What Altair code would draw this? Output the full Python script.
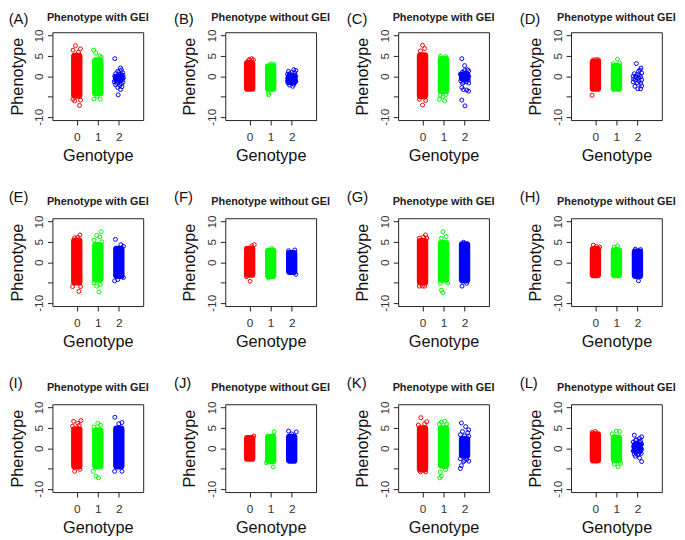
import altair as alt
import pandas as pd

PANELS = list("ABCDEFGHIJKL")
TITLES = ["Phenotype with GEI", "Phenotype without GEI"] * 6
GENOTYPES = [0, 1, 2]
COLORS = ["#FF0000", "#00FF00", "#0000FF"]
JITTER = 0.2
X_TICKS = [0, 1, 2]
Y_TICKS = [-10, -5, 0, 5, 10]

# dense core of each genotype group (lo / hi phenotype), None = no solid core
CORE_LO = [
    [-5.2, -4.6, -1.2], [-3.5, -3.5, -1.8], [-5.3, -4.1, -1.0], [-3.5, -3.5, None],
    [-5.4, -4.7, -3.8], [-3.5, -3.8, -2.8], [-5.4, -4.7, -4.9], [-3.6, -3.6, -3.8],
    [-4.9, -4.9, -4.9], [-3.0, -3.6, -3.5], [-5.6, -4.7, -2.2], [-3.4, -3.3, -1.0],
]
CORE_HI = [
    [5.4, 4.3, 0.2], [3.6, 2.8, 0.4], [5.5, 4.6, 0.8], [3.9, 2.9, None],
    [5.7, 4.6, 3.7], [3.7, 3.2, 2.6], [5.6, 5.1, 4.8], [3.6, 3.3, 3.0],
    [5.0, 4.8, 5.2], [2.9, 3.2, 3.2], [5.3, 5.3, 2.6], [3.8, 3.0, 1.2],
]

# individually visible points: (genotype, jitter offset, phenotype)
PTS_A = [(0, -0.06, 7.5), (0, 0.17, 6.7), (0, -0.18, 6.4), (0, 0.08, 5.9), (0, 0.13, -7.2), (0, -0.1, -6.1),
         (0, 0.18, -5.9), (0, -0.18, -5.7),
         (1, -0.2, 6.4), (1, -0.1, 5.7), (1, 0.1, 5.0), (1, 0.17, 4.6), (1, -0.18, -5.6), (1, 0.12, -5.7), (1, -0.03, -5.0),
         (2, -0.19, 4.3), (2, 0.08, 2.0), (2, 0.12, 1.5), (2, -0.05, 1.2), (2, 0.18, 0.9), (2, -0.15, 0.6), (2, 0.02, 0.4),
         (2, 0.2, 0.2), (2, -0.2, 0.0), (2, -0.08, -0.1), (2, 0.1, -0.3), (2, 0.0, -0.5), (2, -0.12, -0.6), (2, 0.16, -0.8),
         (2, -0.18, -1.0), (2, 0.06, -1.1), (2, -0.02, -1.3), (2, 0.2, -1.5), (2, -0.1, -1.7), (2, 0.12, -1.9),
         (2, -0.16, -2.1), (2, 0.04, -2.3), (2, 0.15, -2.6), (2, -0.05, -2.8), (2, 0.08, -3.3), (2, -0.03, -4.6),
         (2, 0.22, -0.4), (2, -0.22, -1.4), (2, 0.0, 0.9), (2, 0.1, 0.5)]
PTS_B = [(0, 0.1, 4.3), (0, 0.0, 4.1), (0, 0.18, 4.0), (0, -0.05, 3.9),
         (1, 0.0, 3.0), (1, 0.15, 2.9), (1, -0.1, -4.6), (1, -0.12, -4.2),
         (2, 0.1, 1.6), (2, 0.2, 1.4), (2, -0.15, 1.2), (2, 0.0, 0.9), (2, 0.15, 0.8), (2, -0.2, 0.5), (2, -0.05, 0.3),
         (2, 0.1, 0.2), (2, 0.2, 0.0), (2, -0.12, -0.1), (2, 0.03, -0.3), (2, -0.2, -0.5), (2, 0.12, -0.6),
         (2, -0.05, -0.8), (2, 0.18, -0.9), (2, -0.15, -1.0), (2, 0.05, -1.2), (2, -0.08, -1.4), (2, 0.15, -1.5),
         (2, -0.18, -1.7), (2, 0.0, -1.8), (2, 0.1, -2.0), (2, -0.1, -2.2), (2, 0.05, -2.5), (2, -0.02, -1.0),
         (2, 0.08, -0.5), (2, -0.1, 0.6), (2, 0.02, -1.6), (2, 0.2, -1.3), (2, -0.2, -1.2)]
PTS_C = [(0, 0.0, 7.6), (0, 0.1, 6.8), (0, -0.1, 6.2), (0, 0.15, -6.0), (0, 0.0, -7.1), (0, -0.15, -5.7),
         (1, -0.15, 4.9), (1, 0.1, 4.8), (1, -0.16, -4.7), (1, -0.03, -5.0), (1, -0.2, -5.7), (1, 0.05, -6.1), (1, 0.1, -4.5),
         (2, -0.13, 4.3), (2, 0.0, 2.6), (2, 0.14, 1.6), (2, 0.2, 1.3), (2, -0.1, 1.0), (2, 0.05, 0.8), (2, -0.2, 0.5),
         (2, 0.15, 0.4), (2, 0.0, 0.2), (2, -0.08, 0.0), (2, 0.2, -0.1), (2, 0.1, -0.3), (2, -0.15, -0.4),
         (2, 0.05, -0.6), (2, -0.02, -0.9), (2, 0.18, -1.0), (2, -0.18, -1.2), (2, 0.08, -1.4), (2, 0.2, -1.7),
         (2, -0.1, -1.8), (2, -0.13, -2.8), (2, -0.05, -3.3), (2, 0.1, -3.4), (2, 0.19, -3.7), (2, -0.13, -5.9),
         (2, 0.02, -7.3), (2, 0.12, 0.6), (2, -0.05, -1.5), (2, 0.15, -0.7), (2, 0.0, 1.4)]
PTS_D = [(0, -0.16, -4.7), (0, 0.15, 4.0), (0, -0.1, 4.0), (0, 0.05, 4.1),
         (1, 0.05, 4.2), (1, -0.15, 3.1), (1, 0.15, 3.2),
         (2, -0.05, 3.1), (2, 0.17, 2.0), (2, 0.12, 1.5), (2, 0.05, 1.2), (2, 0.2, 0.8), (2, -0.15, 0.6), (2, 0.0, 0.4),
         (2, 0.1, 0.2), (2, -0.2, 0.0), (2, 0.15, -0.2), (2, -0.05, -0.3), (2, 0.05, -0.5), (2, -0.18, -0.7),
         (2, 0.2, -0.9), (2, -0.1, -1.0), (2, 0.08, -1.2), (2, -0.2, -1.4), (2, 0.0, -1.6), (2, 0.15, -1.8),
         (2, 0.2, -2.4), (2, -0.12, -2.5), (2, 0.02, -3.1), (2, 0.15, -3.1), (2, -0.08, -0.1)]
PTS_E = [(0, 0.15, 6.7), (0, -0.1, 6.0), (0, 0.05, 6.1), (0, -0.2, -6.0), (0, 0.1, -7.2), (0, 0.18, -6.0),
         (1, 0.16, 7.5), (1, -0.05, 6.6), (1, 0.1, 6.2), (1, -0.18, 5.4), (1, 0.2, 5.0), (1, -0.18, -5.1),
         (1, 0.12, -5.5), (1, 0.06, -7.3), (1, -0.05, -5.9),
         (2, -0.16, 5.6), (2, 0.1, 4.3), (2, 0.22, 3.9), (2, -0.2, -4.6), (2, -0.05, -4.3), (2, 0.22, -3.8)]
PTS_F = [(0, 0.22, 4.3), (0, 0.1, 4.0), (0, 0.02, -4.7), (0, -0.15, -3.6),
         (1, 0.05, 3.4), (1, -0.1, -3.9),
         (2, 0.2, -3.0), (2, 0.15, 3.0), (2, -0.15, 2.8)]
PTS_G = [(0, 0.14, 6.7), (0, 0.05, 6.2), (0, -0.15, 5.9), (0, 0.2, 5.9), (0, -0.15, -5.9), (0, 0.1, -5.9), (0, 0.0, -5.9),
         (1, -0.03, 7.5), (1, 0.12, 6.3), (1, -0.1, 5.9), (1, -0.1, -6.9), (1, -0.03, -7.5), (1, 0.2, -5.1), (1, -0.15, -5.2),
         (2, -0.12, -5.9), (2, 0.1, -5.2), (2, -0.05, 4.9)]
PTS_H = [(0, -0.1, 4.2), (0, 0.05, 3.9), (0, 0.2, 3.7),
         (1, 0.05, 4.0), (1, -0.1, 3.7),
         (2, 0.05, -4.6), (2, -0.1, 3.2), (2, 0.15, 3.1)]
PTS_I = [(0, -0.15, 6.6), (0, 0.2, 6.8), (0, 0.05, 6.1), (0, -0.2, 5.4), (0, 0.12, 5.6), (0, -0.1, -5.7), (0, 0.15, -5.2),
         (1, 0.0, 6.1), (1, 0.13, 5.7), (1, -0.18, 5.2), (1, -0.22, -5.7), (1, -0.08, -6.9), (1, 0.03, -7.3),
         (2, -0.19, 7.6), (2, 0.15, 6.3), (2, 0.0, 6.0), (2, -0.2, -5.7), (2, 0.15, -5.7)]
PTS_J = [(0, 0.2, 3.0),
         (1, 0.16, 4.0), (1, 0.12, -4.6), (1, -0.2, -3.6),
         (2, -0.15, 4.2), (2, 0.22, 4.0), (2, 0.0, 3.5)]
PTS_K = [(0, -0.08, 7.5), (0, 0.2, 6.5), (0, -0.2, 5.7), (0, 0.1, 6.0), (0, -0.1, -5.8), (0, 0.15, -5.8),
         (1, -0.1, 6.4), (1, 0.05, 6.6), (1, 0.15, 6.0), (1, -0.2, 5.9), (1, -0.15, -5.9), (1, -0.1, -6.9),
         (1, -0.18, -7.3), (1, 0.1, -5.3),
         (2, -0.15, 6.2), (2, 0.05, 5.3), (2, 0.2, 4.5), (2, -0.1, 4.1), (2, 0.15, 3.8), (2, -0.2, 3.3), (2, 0.0, 3.0),
         (2, 0.2, 2.9), (2, -0.2, -2.6), (2, 0.1, -2.8), (2, 0.2, -3.2), (2, -0.05, -3.3), (2, -0.15, -4.3),
         (2, -0.2, -5.0), (2, 0.0, -3.0)]
PTS_L = [(0, 0.0, 4.1), (0, -0.15, 3.9),
         (1, 0.0, 4.2), (1, 0.15, 4.1), (1, -0.2, 3.5), (1, 0.08, -4.6), (1, -0.1, -3.9), (1, 0.2, -3.7),
         (2, -0.15, 3.2), (2, 0.2, 2.8), (2, 0.1, 2.4), (2, -0.05, 2.1), (2, 0.15, 1.8), (2, -0.2, 1.5), (2, 0.0, 1.3),
         (2, 0.2, 1.0), (2, -0.1, 0.8), (2, 0.08, 0.6), (2, -0.18, 0.4), (2, 0.15, 0.2), (2, 0.0, 0.0),
         (2, -0.12, -0.2), (2, 0.2, -0.3), (2, 0.05, -0.5), (2, -0.2, -0.7), (2, 0.12, -0.9), (2, -0.05, -1.1),
         (2, 0.18, -1.3), (2, -0.15, -1.5), (2, 0.02, -1.7), (2, -0.1, -2.0), (2, 0.1, -2.4), (2, 0.2, -3.3),
         (2, -0.05, -0.4), (2, 0.1, 1.5), (2, -0.08, 1.9), (2, 0.05, -1.4), (2, 0.15, -0.1)]
POINTS = [PTS_A, PTS_B, PTS_C, PTS_D, PTS_E, PTS_F, PTS_G, PTS_H, PTS_I, PTS_J, PTS_K, PTS_L]

W, H = 92, 89
FONT = "Liberation Sans"

X = alt.X("xa:Q", scale=alt.Scale(domain=[-1.16, 3.16], nice=False, zero=False),
          axis=alt.Axis(values=X_TICKS, title="Genotype", grid=False, domain=False, tickSize=5,
                        tickColor="#222", labelFontSize=12, labelColor="#333", labelFont=FONT,
                        labelPadding=6.5, labelFlush=False, labelOverlap=False,
                        titleFont=FONT, titleFontSize=16.5, titleFontWeight="normal", titleColor="#111",
                        titleX=W / 2, titleY=40.5, titleBaseline="alphabetic", titleAlign="center"))
Y = alt.Y("ya:Q", scale=alt.Scale(domain=[-10.8, 10.8], nice=False, zero=False),
          axis=alt.Axis(values=Y_TICKS, title="Phenotype", grid=False, domain=False, tickSize=5,
                        tickColor="#222", labelFontSize=12, labelColor="#333", labelFont=FONT,
                        labelAngle=270, labelAlign="center", labelBaseline="bottom", labelPadding=2,
                        labelOverlap=False, labelFlush=False,
                        labelExpr="datum.value == -5 ? '' : '' + datum.value",
                        titleFont=FONT, titleFontSize=16.5, titleFontWeight="normal", titleColor="#111",
                        titleAngle=270, titleX=-30.8, titleY=H / 2, titleBaseline="alphabetic",
                        titleAlign="center"))


def panel(i):
    core_rows = []
    for g in GENOTYPES:
        lo, hi = CORE_LO[i][g], CORE_HI[i][g]
        if lo is None:
            continue
        core_rows.append({"xa": g - JITTER, "xb": g + JITTER, "ya": lo, "yb": hi, "col": COLORS[g]})
    pts_rows = [{"xa": g + dx, "ya": y, "col": COLORS[g]} for (g, dx, y) in POINTS[i]]
    row, col = divmod(i, 4)

    rect = alt.Chart(pd.DataFrame(core_rows)).mark_rect(strokeWidth=3, cornerRadius=2).encode(
        x=X, x2="xb:Q", y=Y, y2="yb:Q",
        color=alt.Color("col:N", scale=None), stroke=alt.Stroke("col:N", scale=None))
    pts = alt.Chart(pd.DataFrame(pts_rows)).mark_point(shape="circle", filled=False, size=16,
                                                        strokeWidth=1, opacity=1).encode(
        x=X, y=Y, color=alt.Color("col:N", scale=None))

    lab_x = -44.3 if col == 0 else -52
    lab_y = -8 if row == 0 else -16
    tit_y = -11 if row == 0 else -13.5
    letter = alt.Chart(pd.DataFrame({"t": ["(" + PANELS[i] + ")"]})).mark_text(
        align="left", baseline="alphabetic", fontSize=15, font=FONT, color="#111").encode(
        text="t:N", x=alt.value(lab_x), y=alt.value(lab_y))
    title = alt.Chart(pd.DataFrame({"t": [TITLES[i]]})).mark_text(
        align="center", baseline="alphabetic", fontSize=11, fontWeight="bold", font=FONT,
        color="#222").encode(text="t:N", x=alt.value(W / 2), y=alt.value(tit_y))
    return alt.layer(rect, pts, letter, title).properties(width=W, height=H)


chart = alt.concat(*[panel(i) for i in range(12)], columns=4,
                   spacing={"row": 99.5, "column": 83.2}, bounds="flush").properties(
    padding=0
).configure_view(stroke="#222", strokeWidth=1)

chart.save("out.html", embed_options={"renderer": "svg", "actions": False})
